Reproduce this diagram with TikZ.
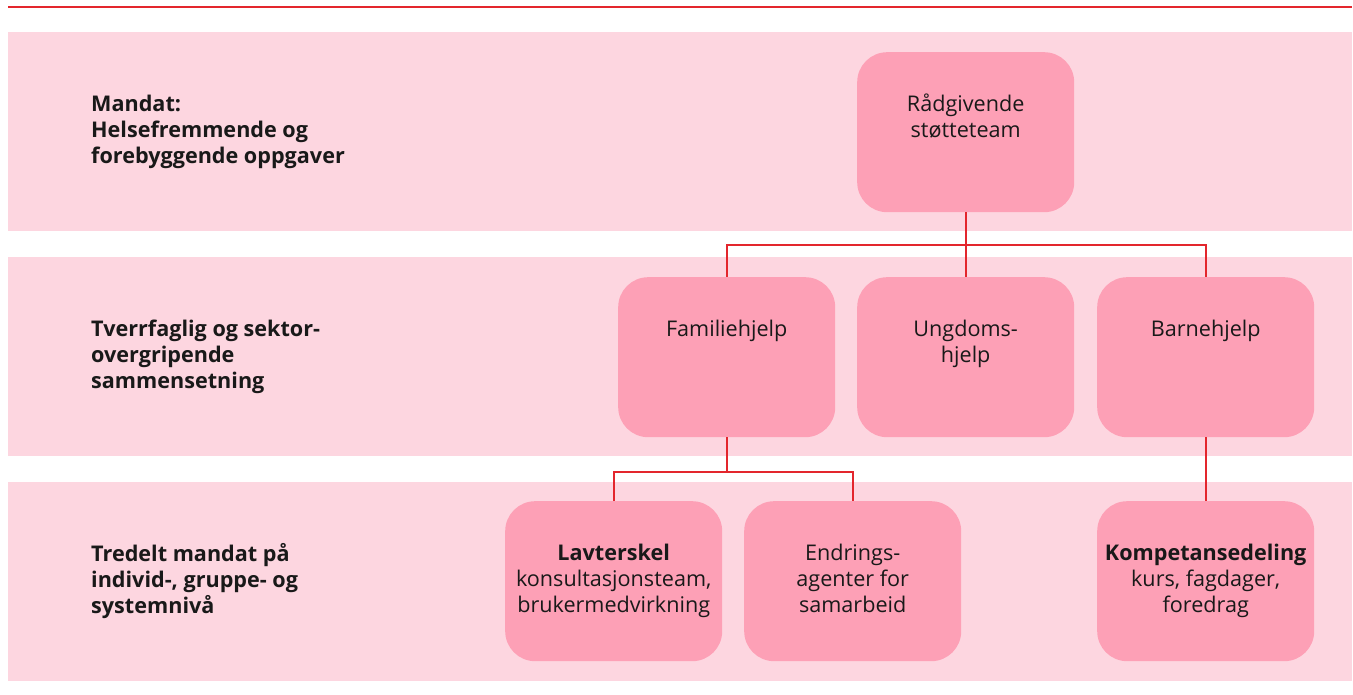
\documentclass[tikz,border=0pt]{standalone}
\usepackage{fontspec}
\setmainfont{Open Sans}
\usetikzlibrary{calc}
\definecolor{bandc}{HTML}{FDD6E0}
\definecolor{boxc}{HTML}{FDA0B6}
\definecolor{redl}{HTML}{E3262D}
\begin{document}
\begin{tikzpicture}[x=1pt,y=-1pt,
  unit/.style={fill=boxc, draw=none, rounded corners=30pt, minimum width=217pt, minimum height=160pt, inner sep=0pt, anchor=north west},
  utext/.style={anchor=north, inner sep=0pt, align=center, text=black!90, font=\fontsize{21.6}{26}\selectfont},
  ltext/.style={anchor=north west, inner sep=0pt, align=left, text=black!90, font=\fontsize{21.6}{26}\selectfont\bfseries},
  conn/.style={draw=redl, line width=2pt}]
\useasboundingbox (0,0) rectangle (1353,695);
% top rule
\draw[redl, line width=2.2pt] (8,7) -- (1352,7);
% bands
\fill[bandc] (8,32) rectangle (1352,231);
\fill[bandc] (8,257) rectangle (1352,456);
\fill[bandc] (8,482) rectangle (1352,681);
% left labels
\node[ltext] (l1) at (91,93) {\rule{0pt}{18pt}Mandat:\\Helsefremmende og\\forebyggende oppgaver};
\node[ltext] (l2) at (91,318) {\rule{0pt}{18pt}Tverrfaglig og sektor-\\overgripende\\sammensetning};
\node[ltext] (l3) at (91,543) {\rule{0pt}{18pt}Tredelt mandat på\\individ-, gruppe- og\\systemnivå};
% boxes
\node[unit] (rad) at (857,52) {};
\node[unit] (fam) at (618,277) {};
\node[unit] (ung) at (857,277) {};
\node[unit] (bar) at (1097,277) {};
\node[unit] (lav) at (505,501) {};
\node[unit] (end) at (744,501) {};
\node[unit] (kom) at (1097,501) {};
% box texts
\node[utext] (radt) at ($(rad.north)+(0,41)$) {\rule{0pt}{18pt}Rådgivende\\støtteteam};
\node[utext] (famt) at ($(fam.north)+(0,41)$) {\rule{0pt}{18pt}Familiehjelp};
\node[utext] (ungt) at ($(ung.north)+(0,41)$) {\rule{0pt}{18pt}Ungdoms-\\hjelp};
\node[utext] (bart) at ($(bar.north)+(0,41)$) {\rule{0pt}{18pt}Barnehjelp};
\node[utext] (lavt) at ($(lav.north)+(0,41)$) {\rule{0pt}{18pt}\textbf{Lavterskel}\\konsultasjonsteam,\\brukermedvirkning};
\node[utext] (endt) at ($(end.north)+(0,41)$) {\rule{0pt}{18pt}Endrings-\\agenter for\\samarbeid};
\node[utext] (komt) at ($(kom.north)+(0,41)$) {\rule{0pt}{18pt}\textbf{Kompetansedeling}\\kurs, fagdager,\\foredrag};
% connectors
\coordinate (j1) at ($(rad.south)+(0,33)$);
\coordinate (j2) at ($(fam.south)+(0,35)$);
\draw[conn] (rad.south) -- (ung.north);
\draw[conn] (fam.north) |- (j1) -| (bar.north);
\draw[conn] (fam.south) -- (j2);
\draw[conn] (lav.north) |- (j2) -| (end.north);
\draw[conn] (bar.south) -- (kom.north);
\end{tikzpicture}
\end{document}
